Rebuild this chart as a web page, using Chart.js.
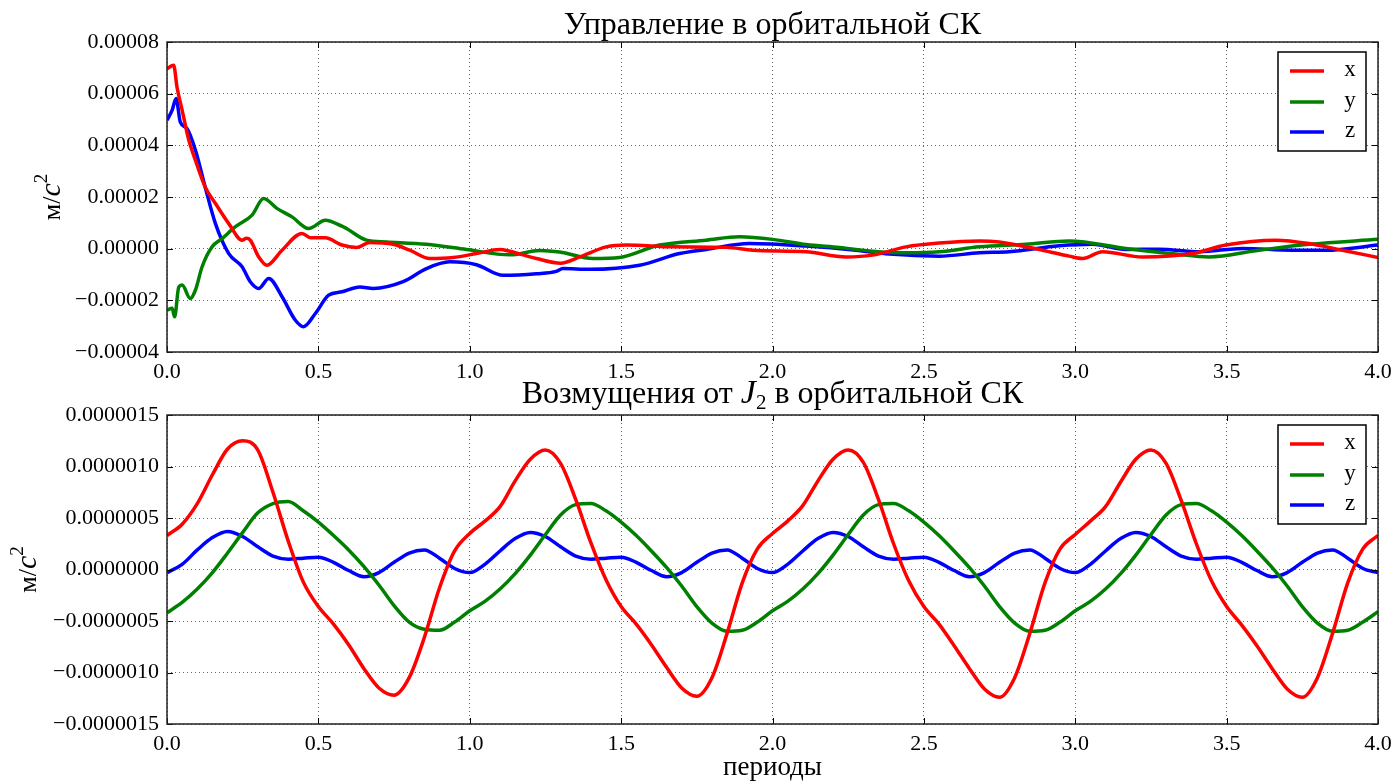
<!DOCTYPE html>
<html>
<head>
<meta charset="utf-8">
<script src="https://cdn.jsdelivr.net/npm/chart.js@4.4.1/dist/chart.umd.min.js"></script>
<style>
  html, body { margin: 0; padding: 0; background: #fff; overflow: hidden; }
  #top { position: absolute; left: 0; top: 0; width: 1394px; height: 390px; }
  #bot { position: absolute; left: 0; top: 370px; width: 1394px; height: 412px; }
</style>
</head>
<body>
<div id="top"><canvas id="ctrl"></canvas></div>
<div id="bot"><canvas id="pert"></canvas></div>
<script>
// Data: control acceleration (units of 1e-5 m/s^2)
const ctrlXt = [0.000, 0.022, 0.033, 0.050, 0.072, 0.094, 0.126, 0.160, 0.204, 0.248, 0.262, 0.275, 0.303, 0.330, 0.380, 0.446, 0.475, 0.523, 0.578, 0.626, 0.670, 0.747, 0.802, 0.868, 0.945, 1.022, 1.100, 1.132, 1.220, 1.300, 1.363, 1.451, 1.517, 1.671, 1.847, 1.935, 2.111, 2.243, 2.331, 2.441, 2.551, 2.683, 2.749, 2.892, 2.980, 3.024, 3.090, 3.222, 3.387, 3.497, 3.662, 3.772, 3.882, 4.000];
const ctrlX  = [6.97, 7.10, 6.26, 5.36, 4.20, 3.42, 2.39, 1.75, 0.97, 0.33, 0.40, 0.33, -0.32, -0.64, -0.06, 0.59, 0.42, 0.42, 0.14, 0.05, 0.24, 0.17, -0.06, -0.38, -0.34, -0.19, -0.03, -0.10, -0.38, -0.56, -0.32, 0.07, 0.14, 0.07, 0.05, -0.06, -0.12, -0.32, -0.25, 0.07, 0.22, 0.30, 0.26, -0.06, -0.29, -0.38, -0.12, -0.32, -0.19, 0.14, 0.33, 0.20, -0.06, -0.34];

const ctrlYt = [0.000, 0.017, 0.025, 0.039, 0.050, 0.077, 0.094, 0.116, 0.149, 0.182, 0.225, 0.281, 0.319, 0.363, 0.413, 0.468, 0.523, 0.578, 0.593, 0.659, 0.725, 0.857, 0.989, 1.132, 1.231, 1.297, 1.407, 1.495, 1.627, 1.781, 1.891, 2.001, 2.111, 2.221, 2.331, 2.441, 2.551, 2.683, 2.837, 2.980, 3.167, 3.332, 3.442, 3.607, 3.772, 4.000];
const ctrlY  = [-2.38, -2.31, -2.64, -1.48, -1.41, -1.93, -1.60, -0.70, 0.07, 0.39, 0.84, 1.30, 1.94, 1.56, 1.23, 0.78, 1.10, 0.87, 0.78, 0.33, 0.26, 0.17, -0.03, -0.24, -0.07, -0.13, -0.38, -0.34, 0.14, 0.33, 0.46, 0.36, 0.16, 0.05, -0.10, -0.16, -0.12, 0.07, 0.17, 0.30, 0.01, -0.21, -0.32, -0.06, 0.17, 0.36];

const ctrlZt = [0.000, 0.017, 0.030, 0.044, 0.066, 0.094, 0.126, 0.160, 0.204, 0.248, 0.275, 0.303, 0.336, 0.380, 0.424, 0.451, 0.490, 0.534, 0.578, 0.637, 0.681, 0.780, 0.857, 0.934, 1.022, 1.110, 1.220, 1.286, 1.308, 1.396, 1.561, 1.693, 1.781, 1.924, 2.111, 2.276, 2.386, 2.551, 2.683, 2.782, 2.947, 3.057, 3.167, 3.277, 3.409, 3.552, 3.717, 3.827, 4.000];
const ctrlZ  = [4.97, 5.36, 5.81, 4.90, 4.65, 3.81, 2.39, 0.97, -0.19, -0.70, -1.28, -1.54, -1.15, -1.86, -2.77, -3.02, -2.51, -1.80, -1.67, -1.48, -1.54, -1.28, -0.77, -0.51, -0.62, -1.03, -0.97, -0.88, -0.77, -0.80, -0.64, -0.19, -0.03, 0.20, 0.10, -0.06, -0.21, -0.29, -0.16, -0.12, 0.11, 0.17, -0.03, -0.02, -0.12, 0.01, -0.06, -0.06, 0.14];

// J2 perturbation (units of 1e-6 m/s^2), sampled every 0.05 period
const pertT = [0.00, 0.05, 0.10, 0.15, 0.20, 0.25, 0.30, 0.35, 0.40, 0.45, 0.50, 0.55, 0.60, 0.65, 0.70, 0.75, 0.80, 0.85, 0.90, 0.95,
               1.00, 1.05, 1.10, 1.15, 1.20, 1.25, 1.30, 1.35, 1.40, 1.45, 1.50, 1.55, 1.60, 1.65, 1.70, 1.75, 1.80, 1.85, 1.90, 1.95,
               2.00, 2.05, 2.10, 2.15, 2.20, 2.25, 2.30, 2.35, 2.40, 2.45, 2.50, 2.55, 2.60, 2.65, 2.70, 2.75, 2.80, 2.85, 2.90, 2.95,
               3.00, 3.05, 3.10, 3.15, 3.20, 3.25, 3.30, 3.35, 3.40, 3.45, 3.50, 3.55, 3.60, 3.65, 3.70, 3.75, 3.80, 3.85, 3.90, 3.95, 4.00];
const pertX = [0.33, 0.44, 0.64, 0.92, 1.17, 1.25, 1.16, 0.75, 0.28, -0.12, -0.36, -0.53, -0.73, -0.96, -1.15, -1.22, -1.05, -0.66, -0.18, 0.18,
               0.35, 0.47, 0.61, 0.86, 1.07, 1.16, 1.03, 0.68, 0.26, -0.10, -0.36, -0.53, -0.73, -0.95, -1.15, -1.23, -1.05, -0.62, -0.13, 0.20,
               0.35, 0.47, 0.62, 0.86, 1.07, 1.16, 1.04, 0.68, 0.25, -0.11, -0.36, -0.53, -0.74, -0.96, -1.16, -1.24, -1.05, -0.62, -0.13, 0.20,
               0.34, 0.47, 0.61, 0.85, 1.07, 1.16, 1.03, 0.67, 0.25, -0.11, -0.36, -0.54, -0.74, -0.96, -1.16, -1.24, -1.05, -0.62, -0.13, 0.20, 0.33];
const pertY = [-0.42, -0.32, -0.19, -0.03, 0.16, 0.36, 0.55, 0.64, 0.66, 0.57, 0.46, 0.33, 0.19, 0.03, -0.15, -0.35, -0.51, -0.58, -0.59, -0.51,
               -0.40, -0.31, -0.19, -0.04, 0.14, 0.34, 0.53, 0.63, 0.64, 0.57, 0.46, 0.33, 0.18, 0.02, -0.16, -0.36, -0.52, -0.60, -0.59, -0.51,
               -0.40, -0.31, -0.19, -0.04, 0.14, 0.34, 0.53, 0.63, 0.64, 0.57, 0.46, 0.33, 0.18, 0.02, -0.16, -0.36, -0.52, -0.60, -0.59, -0.51,
               -0.40, -0.31, -0.19, -0.04, 0.14, 0.34, 0.53, 0.63, 0.64, 0.57, 0.46, 0.33, 0.18, 0.02, -0.16, -0.36, -0.52, -0.60, -0.59, -0.51, -0.41];
const pertZ = [-0.03, 0.05, 0.19, 0.31, 0.37, 0.32, 0.22, 0.13, 0.10, 0.11, 0.12, 0.07, -0.01, -0.07, -0.03, 0.07, 0.16, 0.19, 0.11, 0.01,
               -0.03, 0.05, 0.18, 0.30, 0.36, 0.32, 0.22, 0.13, 0.10, 0.11, 0.12, 0.07, -0.01, -0.07, -0.03, 0.07, 0.16, 0.19, 0.11, 0.01,
               -0.03, 0.05, 0.18, 0.30, 0.36, 0.32, 0.22, 0.13, 0.10, 0.11, 0.12, 0.07, -0.01, -0.07, -0.03, 0.07, 0.16, 0.19, 0.11, 0.01,
               -0.03, 0.05, 0.18, 0.30, 0.36, 0.32, 0.22, 0.13, 0.10, 0.11, 0.12, 0.07, -0.01, -0.07, -0.03, 0.07, 0.16, 0.19, 0.11, 0.01, -0.03];

const seriesNames = ["x", "y", "z"];
const seriesColors = ["#ff0000", "#008000", "#0000ff"];

const SERIF = '"Liberation Serif", "DejaVu Serif", serif';
Chart.defaults.font.family = SERIF;
Chart.defaults.color = "#000";

function pts(ts, vs, unit) {
    return ts.map((t, i) => ({ x: t, y: vs[i] * unit }));
}

function fmt(v, d) {
    return (v < -1e-12 ? "\u2212" : "") + Math.abs(v).toFixed(d);
}

// draws mixed-style text (roman / italic / super-, subscript) centred on x
function drawRich(ctx, pieces, x, y, rot) {
    ctx.save();
    ctx.translate(x, y);
    if (rot) ctx.rotate(rot);
    ctx.fillStyle = "#000";
    ctx.textAlign = "left";
    ctx.textBaseline = "alphabetic";
    let total = 0;
    pieces.forEach(p => {
        ctx.font = (p.italic ? "italic " : "") + p.size + "px " + SERIF;
        p.w = ctx.measureText(p.t).width;
        total += p.w;
    });
    let cx = -total / 2;
    pieces.forEach(p => {
        ctx.font = (p.italic ? "italic " : "") + p.size + "px " + SERIF;
        ctx.fillText(p.t, cx, p.dy || 0);
        cx += p.w;
    });
    ctx.restore();
}

// frame, inward ticks, titles, legend box
const decor = {
    id: "decor",
    afterDraw(chart, args, opts) {
        const ctx = chart.ctx;
        const a = chart.chartArea;
        const xs = chart.scales.x, ys = chart.scales.y;
        ctx.save();
        ctx.strokeStyle = "#000";
        ctx.lineWidth = 1;
        ctx.beginPath();
        xs.ticks.forEach(t => {
            const p = Math.round(xs.getPixelForValue(t.value)) + 0.5;
            ctx.moveTo(p, a.top); ctx.lineTo(p, a.top + 6);
            ctx.moveTo(p, a.bottom); ctx.lineTo(p, a.bottom - 6);
        });
        ys.ticks.forEach(t => {
            const p = Math.round(ys.getPixelForValue(t.value)) + 0.5;
            ctx.moveTo(a.left, p); ctx.lineTo(a.left + 6, p);
            ctx.moveTo(a.right, p); ctx.lineTo(a.right - 6, p);
        });
        ctx.stroke();
        ctx.lineWidth = 1.5;
        ctx.strokeStyle = "#222";
        ctx.strokeRect(a.left, a.top, a.right - a.left, a.bottom - a.top);

        // legend
        const bw = 88, bh = 99;
        const bx = a.right - 12 - bw, by = a.top + 10;
        ctx.fillStyle = "#fff";
        ctx.fillRect(bx, by, bw, bh);
        ctx.strokeStyle = "#000";
        ctx.lineWidth = 1.5;
        ctx.strokeRect(bx, by, bw, bh);
        const rows = [19, 50, 80];
        chart.data.datasets.forEach((ds, i) => {
            const ry = by + rows[i];
            ctx.strokeStyle = ds.borderColor;
            ctx.lineWidth = 3.5;
            ctx.beginPath();
            ctx.moveTo(bx + 12, ry);
            ctx.lineTo(bx + 46, ry);
            ctx.stroke();
            ctx.fillStyle = "#000";
            ctx.font = "23px " + SERIF;
            ctx.textAlign = "center";
            ctx.textBaseline = "middle";
            ctx.fillText(ds.label, bx + 72, ry - 1);
        });
        ctx.restore();

        const cx = (a.left + a.right) / 2;
        drawRich(ctx, opts.title, cx, opts.titleY);
        drawRich(ctx, opts.ylabel, opts.ylabelX, (a.top + a.bottom) / 2, -Math.PI / 2);
        if (opts.xlabel) drawRich(ctx, opts.xlabel, cx, opts.xlabelY);
    }
};

const yLabel = [
    { t: "м/", size: 26 },
    { t: "c", size: 30, italic: true },
    { t: "2", size: 19, dy: -13 }
];

function makeOptions(cfg) {
    return {
        responsive: true,
        maintainAspectRatio: false,
        animation: false,
        layout: { padding: { left: 0, right: 16, top: cfg.padTop, bottom: 0 } },
        plugins: {
            legend: { display: false },
            tooltip: { enabled: false },
            decor: cfg.decor
        },
        elements: { point: { radius: 0 } },
        scales: {
            x: {
                type: "linear",
                min: 0, max: 4,
                afterFit: s => { s.height = cfg.xHeight; s.paddingLeft = 0; s.paddingRight = 0; },
                ticks: { stepSize: 0.5, padding: 7, font: { size: 22 }, callback: v => v.toFixed(1), maxRotation: 0 },
                grid: { color: "rgba(0,0,0,0.6)", lineWidth: 1, drawTicks: false },
                border: { display: false, dash: [1, 3] }
            },
            y: {
                min: cfg.yMin, max: cfg.yMax,
                afterFit: s => { s.width = 167; s.paddingTop = 0; s.paddingBottom = 0; },
                ticks: { stepSize: cfg.yStep, padding: 8, font: { size: 22 }, callback: v => fmt(v, cfg.digits) },
                grid: { color: "rgba(0,0,0,0.6)", lineWidth: 1, drawTicks: false },
                border: { display: false, dash: [1, 3] }
            }
        }
    };
}

function datasets(list) {
    return list.map((d, i) => ({
        label: seriesNames[i],
        data: d,
        borderColor: seriesColors[i],
        borderWidth: 3.5,
        fill: false,
        cubicInterpolationMode: "monotone"
    }));
}

new Chart(document.getElementById("ctrl"), {
    type: "line",
    data: {
        datasets: datasets([pts(ctrlXt, ctrlX, 1e-5), pts(ctrlYt, ctrlY, 1e-5), pts(ctrlZt, ctrlZ, 1e-5)])
    },
    options: makeOptions({
        padTop: 42, xHeight: 38,
        yMin: -4e-5, yMax: 8e-5, yStep: 2e-5, digits: 5,
        decor: {
            title: [{ t: "Управление в орбитальной СК", size: 32 }],
            titleY: 34,
            ylabel: yLabel,
            ylabelX: 60
        }
    }),
    plugins: [decor]
});

new Chart(document.getElementById("pert"), {
    type: "line",
    data: {
        datasets: datasets([pts(pertT, pertX, 1e-6), pts(pertT, pertY, 1e-6), pts(pertT, pertZ, 1e-6)])
    },
    options: makeOptions({
        padTop: 45, xHeight: 58,
        yMin: -1.5e-6, yMax: 1.5e-6, yStep: 5e-7, digits: 7,
        decor: {
            title: [
                { t: "Возмущения от ", size: 32 },
                { t: "J", size: 34, italic: true },
                { t: "2", size: 21, dy: 6 },
                { t: " в орбитальной СК", size: 32 }
            ],
            titleY: 33,
            ylabel: yLabel,
            ylabelX: 36,
            xlabel: [{ t: "периоды", size: 27 }],
            xlabelY: 405
        }
    }),
    plugins: [decor]
});
</script>
</body>
</html>
